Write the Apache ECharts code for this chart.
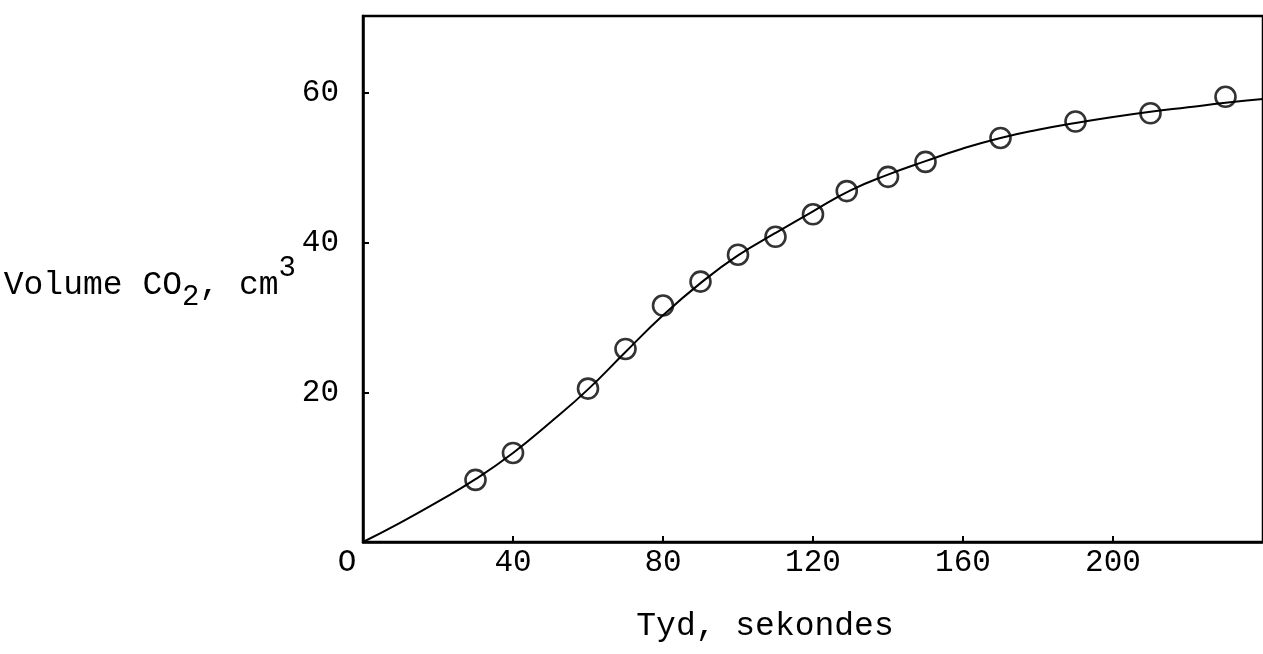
<!DOCTYPE html>
<html>
<head>
<meta charset="utf-8">
<script src="https://cdn.jsdelivr.net/npm/echarts@6/dist/echarts.min.js"></script>
<style>
html,body{margin:0;padding:0;background:#fff;}
#chart{width:1263px;height:654px;}
</style>
</head>
<body>
<div id="chart"></div>
<script>
// Measured points (time in s, volume CO2 in cm3)
var pointTimes = [30, 40, 60, 70, 80, 90, 100, 110, 120, 129, 140, 150, 170, 190, 210, 230];
var pointVolumes = [8.3, 11.9, 20.5, 25.8, 31.6, 34.8, 38.4, 40.8, 43.8, 46.9, 48.8, 50.8, 54.0, 56.2, 57.3, 59.5];
// Fitted curve
var curveTimes = [0, 10, 20, 30, 40, 50, 60, 70, 80, 90, 100, 110, 120, 130, 140, 150, 160, 170, 180, 190, 200, 210, 220, 230, 240];
var curveVolumes = [0, 2.6, 5.4, 8.4, 11.9, 16.0, 20.4, 25.4, 30.3, 34.6, 38.3, 41.3, 44.2, 47.0, 49.1, 50.9, 52.6, 54.0, 55.1, 56.0, 56.8, 57.5, 58.1, 58.7, 59.2];
var xTickLabels = ['O', '40', '80', '120', '160', '200'];
var yTickLabels = ['20', '40', '60'];
var xAxisTitle = 'Tyd, sekondes';

var FONT = '"Liberation Mono", "DejaVu Sans Mono", monospace';
var FS = 31;
var NFS = 33;

var pts = pointTimes.map(function (t, i) { return [t, pointVolumes[i]]; });
var crv = curveTimes.map(function (t, i) { return [t, curveVolumes[i]]; });

var chart = echarts.init(document.getElementById('chart'), null, {renderer: 'canvas'});
chart.setOption({
  backgroundColor: '#ffffff',
  animation: false,
  grid: {
    left: 363, top: 16, right: 0, bottom: 112,
    show: true, borderColor: '#000', borderWidth: 2.5, backgroundColor: 'transparent'
  },
  xAxis: {
    type: 'value', min: 0, max: 240, interval: 40,
    splitLine: {show: false},
    axisLine: {show: true, lineStyle: {color: '#000', width: 2.5}},
    axisTick: {show: true, inside: true, length: 6, lineStyle: {color: '#000', width: 2}},
    axisLabel: {
      showMaxLabel: false,
      margin: 5,
      color: '#000', fontFamily: FONT, fontSize: FS,
      formatter: function (v) {
        var idx = Math.round(v / 40);
        if (v === 0) return '{o|' + xTickLabels[0] + '}';
        return xTickLabels[idx] || '';
      },
      rich: {o: {fontFamily: FONT, fontSize: FS, color: '#000', padding: [0, 32, 0, 0]}}
    },
    name: xAxisTitle,
    nameLocation: 'middle',
    nameGap: 68,
    nameTextStyle: {color: '#000', fontFamily: FONT, fontSize: NFS, padding: [0, 96, 0, 0]}
  },
  yAxis: {
    type: 'value', min: 0, max: 70.3, interval: 20,
    splitLine: {show: false},
    axisLine: {show: true, lineStyle: {color: '#000', width: 2.5}},
    axisTick: {show: true, inside: true, length: 6, lineStyle: {color: '#000', width: 2}},
    axisLabel: {
      showMinLabel: false, showMaxLabel: false,
      margin: 24,
      color: '#000', fontFamily: FONT, fontSize: FS,
      formatter: function (v) {
        var idx = Math.round(v / 20) - 1;
        return yTickLabels[idx] || '';
      }
    },
    name: '{a|Volume CO}{s|2}{a|, cm}{p|3}',
    nameLocation: 'middle',
    nameRotate: 0,
    nameGap: 67,
    nameMoveOverlap: false,
    nameTextStyle: {
      align: 'right',
      padding: [12, 0, 0, 0],
      rich: {
        a: {fontFamily: FONT, fontSize: NFS, color: '#000'},
        s: {fontFamily: FONT, fontSize: 29, color: '#000', padding: [24, 0, 0, 0]},
        p: {fontFamily: FONT, fontSize: 29, color: '#000', padding: [0, 0, 34, 0]}
      }
    }
  },
  series: [
    {
      type: 'line',
      data: crv,
      smooth: true,
      showSymbol: false,
      lineStyle: {color: '#000', width: 2},
      z: 2
    },
    {
      type: 'scatter',
      data: pts,
      symbol: 'circle',
      symbolSize: 20,
      itemStyle: {color: 'rgba(0,0,0,0)', borderColor: '#000', borderWidth: 2.6},
      z: 3
    }
  ]
});
</script>
</body>
</html>
